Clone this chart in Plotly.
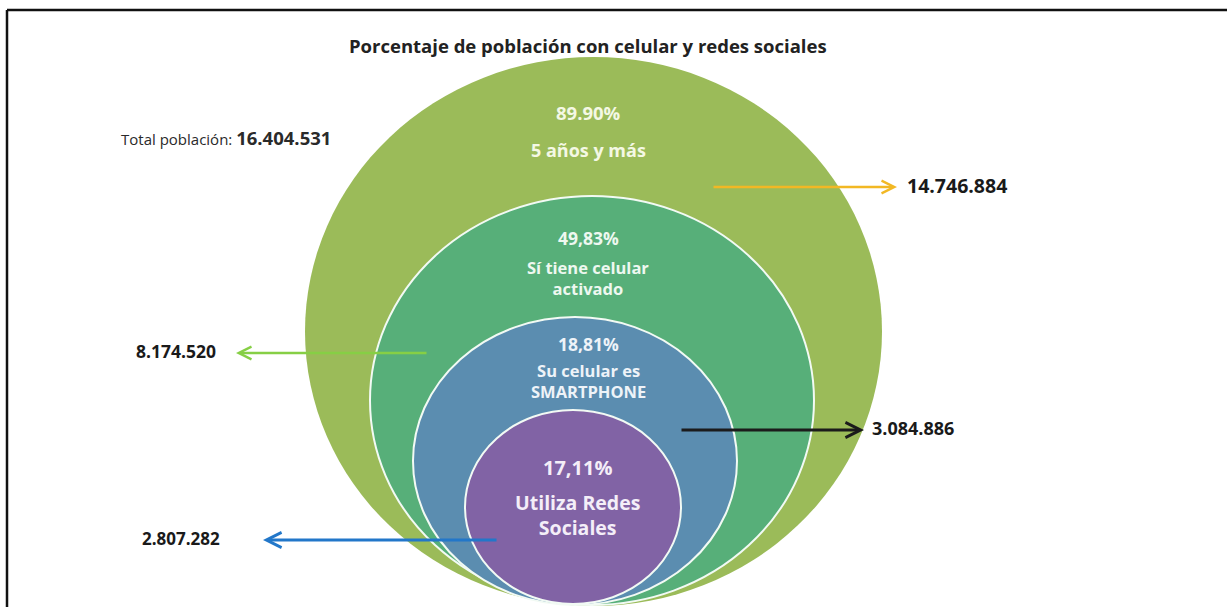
import plotly.graph_objects as go

# ---------------- data ----------------
title_text = "Porcentaje de población con celular y redes sociales"
total_label = "Total población: "
total_value = "16.404.531"
pct_labels = ["89.90%", "49,83%", "18,81%", "17,11%"]
desc_labels = ["5 años y más", "Sí tiene celular<br>activado",
               "Su celular es<br>SMARTPHONE", "Utiliza Redes<br>Sociales"]
count_labels = ["14.746.884", "8.174.520", "3.084.886", "2.807.282"]

# ---------------- geometry / style ----------------
W, H = 1227, 607
# ellipse boxes (x0, x1, y0, y1) in pixel space
ellipses = [(305, 882, 57, 606), (370, 814, 196, 605),
            (413, 737, 317, 605), (465, 681, 410, 604)]
fills = ["#9BBB59", "#57AF79", "#5B8DB0", "#8163A5"]
text_cols = ["#F4F8E4", "#EEF8F0", "#EEF3F8", "#F4EEF8"]
pct_pos = [(588, 112), (588, 238), (588, 344), (577, 467)]
desc_pos = [(588, 150), (588, 278), (588, 381), (577, 515)]
pct_size = [18.5, 17.5, 17.5, 20]
desc_size = [18, 16.5, 16.5, 19.5]

arrow_tail = [(712, 187), (428, 353), (680, 430), (498, 540)]
arrow_head = [(897, 187), (236, 353), (864, 430), (263, 540)]
arrow_cols = ["#F2B824", "#86CF45", "#1B1B1B", "#2277C9"]
arrow_w = [2.5, 2.5, 3, 3]
count_pos = [(905, 185, "left"), (218, 351, "right"),
             (870, 428, "left"), (222, 538, "right")]
count_size = [19.5, 17.5, 18, 17]

FONT = "Open Sans"

fig = go.Figure()
fig.add_trace(go.Scatter(x=[0, W], y=[0, H], mode="markers",
                         marker=dict(opacity=0), hoverinfo="skip",
                         showlegend=False))

shapes = []
# frame
shapes.append(dict(type="line", xref="x", yref="y", x0=7, x1=W, y0=10, y1=10,
                   line=dict(color="#111111", width=2.5)))
shapes.append(dict(type="line", xref="x", yref="y", x0=7, x1=7, y0=10, y1=H,
                   line=dict(color="#111111", width=2.5)))
for i, (x0, x1, y0, y1) in enumerate(ellipses):
    shapes.append(dict(type="circle", xref="x", yref="y",
                       x0=x0, x1=x1, y0=y0, y1=y1,
                       fillcolor=fills[i],
                       line=dict(color="#F2FAF4" if i else fills[i], width=2 if i else 0),
                       layer="below"))

annotations = []
annotations.append(dict(x=588, y=45, xref="x", yref="y", showarrow=False,
                        text="<b>" + title_text + "</b>",
                        font=dict(family=FONT, size=18.5, color="#222222")))
annotations.append(dict(x=119, y=137, xref="x", yref="y", showarrow=False,
                        xanchor="left",
                        text=total_label + "<b><span style='font-size:18.5px'>" + total_value + "</span></b>",
                        font=dict(family=FONT, size=15, color="#2A2A2A")))
for i in range(4):
    annotations.append(dict(x=pct_pos[i][0], y=pct_pos[i][1], xref="x", yref="y",
                            showarrow=False, text="<b>" + pct_labels[i] + "</b>",
                            font=dict(family=FONT, size=pct_size[i], color=text_cols[i])))
    annotations.append(dict(x=desc_pos[i][0], y=desc_pos[i][1], xref="x", yref="y",
                            showarrow=False, text="<b>" + desc_labels[i] + "</b>",
                            font=dict(family=FONT, size=desc_size[i], color=text_cols[i])))
    tx, ty = arrow_tail[i]
    hx, hy = arrow_head[i]
    annotations.append(dict(x=hx, y=hy, ax=tx, ay=ty, xref="x", yref="y",
                            axref="x", ayref="y", text="", showarrow=True,
                            arrowhead=5, arrowsize=1, arrowwidth=arrow_w[i],
                            arrowcolor=arrow_cols[i]))
    cx, cy, anc = count_pos[i]
    annotations.append(dict(x=cx, y=cy, xref="x", yref="y", showarrow=False,
                            xanchor=anc, text="<b>" + count_labels[i] + "</b>",
                            font=dict(family=FONT, size=count_size[i], color="#1A1A1A")))

fig.update_layout(
    width=W, height=H, margin=dict(l=0, r=0, t=0, b=0),
    paper_bgcolor="white", plot_bgcolor="white",
    xaxis=dict(range=[0, W], visible=False, fixedrange=True),
    yaxis=dict(range=[H, 0], visible=False, fixedrange=True),
    shapes=shapes, annotations=annotations, showlegend=False,
)
fig.write_html("out.html")
